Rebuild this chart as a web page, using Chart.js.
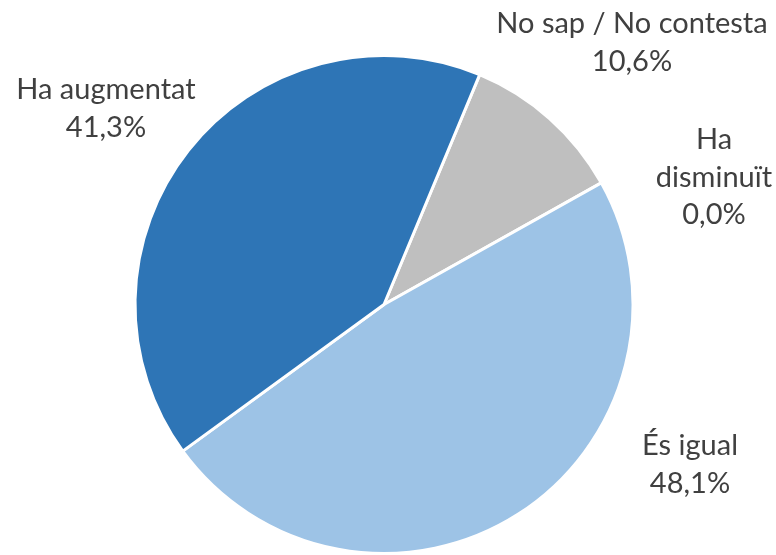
<!DOCTYPE html>
<html>
<head>
<meta charset="utf-8">
<script src="https://cdn.jsdelivr.net/npm/chart.js@4/dist/chart.umd.min.js"></script>
<style>
    html, body { margin: 0; padding: 0; background: #ffffff; }
    #wrap { width: 776px; height: 555px; position: relative; }
</style>
</head>
<body>
<div id="wrap"><canvas id="pieChart" width="776" height="555"></canvas></div>
<script>
// Dades del gràfic (ordre en sentit horari)
const categories = ["No sap / No contesta", "Ha disminuït", "És igual", "Ha augmentat"];
const percentatges = [10.6, 0.0, 48.1, 41.3];
const colors = ["#BFBFBF", "#A5A5A5", "#9DC3E6", "#2E75B6"];

// Línies de cada etiqueta i on van col·locades
const labelLines = [
    ["No sap / No contesta"],
    ["Ha", "disminuït"],
    ["És igual"],
    ["Ha augmentat"]
];
const labelPos = [
    { x: 632, y: 24 },
    { x: 714, y: 140 },
    { x: 690, y: 446 },
    { x: 106, y: 90 }
];

function formatPct(v) {
    return v.toFixed(1).replace(".", ",") + "%";
}

// Plugin per dibuixar les etiquetes fora del pastís
const outsideLabels = {
    id: "outsideLabels",
    afterDraw(chart) {
        const ctx = chart.ctx;
        ctx.save();
        ctx.font = "29px Lato, 'Open Sans', sans-serif";
        ctx.fillStyle = "#404040";
        ctx.textAlign = "center";
        ctx.textBaseline = "middle";
        const lineH = 37.5;
        percentatges.forEach((v, i) => {
            const lines = labelLines[i].concat([formatPct(v)]);
            lines.forEach((t, j) => {
                ctx.fillText(t, labelPos[i].x, labelPos[i].y + j * lineH);
            });
        });
        ctx.restore();
    }
};

const ctx = document.getElementById("pieChart").getContext("2d");
new Chart(ctx, {
    type: "pie",
    data: {
        labels: categories,
        datasets: [{
            data: percentatges,
            backgroundColor: colors,
            borderColor: "#ffffff",
            borderWidth: 3
        }]
    },
    options: {
        responsive: false,
        animation: false,
        rotation: 22.6,
        layout: {
            padding: { left: 133, right: 141, top: 54, bottom: 0 }
        },
        plugins: {
            legend: { display: false },
            tooltip: { enabled: false }
        }
    },
    plugins: [outsideLabels]
});
</script>
</body>
</html>
